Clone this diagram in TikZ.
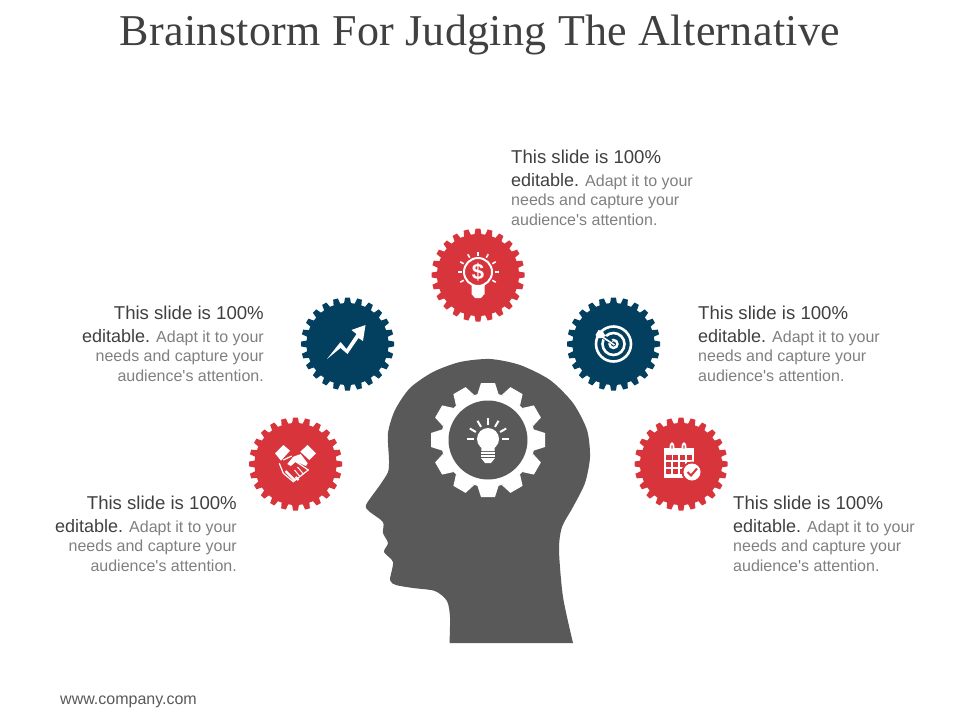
\documentclass[tikz,border=0pt]{standalone}
\usepackage{fontspec}
\setmainfont[Ligatures=TeXOff]{Liberation Sans}
\newfontfamily\titlefont[LetterSpace=0.8]{Liberation Serif}
\definecolor{cogred}{HTML}{D7343B}
\definecolor{cognavy}{HTML}{03405F}
\definecolor{headgrey}{HTML}{595959}
\definecolor{darktext}{HTML}{404040}
\definecolor{softtext}{HTML}{7F7F7F}
\newcommand{\cogwheel}[4]{%
    \fill (0, 0) circle (#2);
    \foreach \a in {1, ..., #1}
       \fill[rotate=\a*360/#1] (#2-1, -#4*1.5) -- (#3, -#4) -- (#3, #4) -- (#2-1, #4*1.5) -- cycle;
}
\newcommand{\leadtext}{\fontsize{18.6}{18.6}\selectfont\color{darktext}}
\newcommand{\blurb}{{\leadtext This slide is 100\%}\\[3pt]{\leadtext\fontsize{18}{18}\selectfont editable.} Adapt it to your\\needs and capture your\\audience's attention.}
\tikzset{
    blurbtext/.style={font=\fontsize{16}{19.6}\selectfont, text=softtext, inner sep=0pt},
    leftblurb/.style={blurbtext, align=right, anchor=north east},
    rightblurb/.style={blurbtext, align=left, anchor=north west},
    ray/.style={draw=white, line width=1.6, line cap=butt},
}
\begin{document}
\begin{tikzpicture}[x=1pt, y=-1pt]
    \useasboundingbox (0, 0) rectangle (960, 720);
    \node[anchor=base, font=\titlefont\fontsize{44}{44}\selectfont, text=darktext] (title) at (480, 45) {Brainstorm For Judging The Alternative};
    \node[anchor=west, font=\fontsize{16}{16}\selectfont, text=headgrey, inner sep=0pt] (site) at (60, 702) {www.company.com};
    % head
    \fill[headgrey] plot[smooth, tension=.45] coordinates {(449.5, 643) (450, 617) (447, 601) (435, 591) (413, 588) (396, 585) (390, 580) (393, 562) (384, 552) (388, 543) (383, 533) (383, 522) (370, 512) (366, 505) (380, 485) (388, 472) (389, 460) (388, 433) (395, 410) (410, 388) (433, 372) (460, 362) (490, 359) (520, 365) (550, 380) (573, 403) (587, 430) (590, 457) (585, 483) (573, 507) (562, 527) (559, 550) (563, 597) (573, 643)} -- cycle;
    \begin{scope}[shift={(488, 440)}, fill=white]
       \cogwheel{12}{47}{57}{7}
       \fill[headgrey] (0, 0) circle (39.5);
       \fill (0, -1) circle (11);
       \fill (-7, 4) -- (7, 4) -- (6.5, 11) -- (-6.5, 11) -- cycle;
       \foreach \a in {0, -30, ..., -180}
          \draw[ray, line width=2] (0, -1) ++(\a:14) -- ++(\a:7);
       \foreach \y in {13, 16}
          \draw[white, line width=1.8] (-7, \y) -- (7, \y);
       \fill (-7, 18) -- (7, 18) -- (3, 23) -- (-3, 23) -- cycle;
    \end{scope}
    % money
    \begin{scope}[shift={(478, 275)}, fill=cogred]
       \cogwheel{24}{41}{46.5}{2.4}
       \draw[white, line width=2] (0, -3) circle (14);
       \fill[white] (-6.5, 10) -- (6.5, 10) -- (6.5, 19) -- (3, 23) -- (-3, 23) -- (-6.5, 19) -- cycle;
       \foreach \a in {-210, -180, ..., 30}
          \draw[ray] (0, -3) ++(\a:16.5) -- ++(\a:4);
       \node[text=white, font=\bfseries\fontsize{22}{22}\selectfont, inner sep=0pt] (dollar) at (0, -3) {\$};
    \end{scope}
    % growth
    \begin{scope}[shift={(347.5, 344)}, fill=cognavy]
       \cogwheel{24}{41}{46.5}{2.4}
       \fill[white] (-20.5, 15) -- (-7, -2) -- (-1, 5) -- (9, -10) -- (4, -14) -- (18, -19) -- (15.5, -3) -- (11, -6) -- (0, 10) -- (-7, 4) -- cycle;
    \end{scope}
    % target
    \begin{scope}[shift={(613.5, 344)}, fill=cognavy]
       \cogwheel{24}{41}{46.5}{2.4}
       \draw[white, line width=2.6] (0, 0) circle (17.5);
       \draw[white, line width=2.6] (0, 0) circle (11);
       \draw[white, line width=2.4] (0, 0) circle (4);
       \draw[cognavy, line width=4] (-15, -10) -- (-2, -2);
       \draw[white, line width=1.6] (-14, -9) -- (1, 1);
       \fill[white] (-18, -9) -- (-15, -14) -- (-11, -13) -- (-8, -8) -- (-12, -6) -- (-16, -6) -- cycle;
    \end{scope}
    % handshake
    \begin{scope}[shift={(295.5, 464)}, fill=cogred]
       \cogwheel{24}{41}{46.5}{2.4}
       \fill[white] (-20.5, -10.7) -- (-12, -19) -- (-5.5, -13.3) -- (-14.5, -3.3) -- cycle;
       \fill[white] (20.5, -10.7) -- (12, -19) -- (4.8, -12.3) -- (13.8, -4) -- cycle;
       \fill[white] (-8.2, 0) -- (-2.2, -7.3) -- (5.2, -10) -- (12.2, -.7) -- (10.5, 2) -- (.5, -2.3) -- (-4.8, 2) -- cycle;
       \draw[white, line width=1.2] (-3.8, -8) -- (-12.2, -4) (-16.2, -.7) -- (-12.2, 9.3) -- (-2.2, 17.7) -- (12.8, 6) -- (.5, -2.3);
       \foreach \x/\y in {-10/7, -7/10, -4/13, 0/13}
          \draw[white, line width=2.4] (\x, \y) -- ++(3, 3);
       \draw[white, line width=1] (2, 3) -- (8, 10) (-1, 6) -- (4, 12);
    \end{scope}
    % calendar
    \begin{scope}[shift={(681, 464)}, fill=cogred]
       \cogwheel{24}{41}{46.5}{2.4}
       \fill[white] (-17, -16) rectangle (13, 14);
       \foreach \x in {-5.5, 1.5, 8.5}
          \foreach \y in {-7, 0, 7}
             \fill[cogred] (\x-2.7, \y-2.5) rectangle (\x+2.7, \y+2.5);
       \fill[cogred] (-15, -9.5) rectangle (-9.5, -4.5);
       \foreach \y in {0, 7}
          \fill[cogred] (-15, \y-2.5) rectangle (-10, \y+2.5);
       \foreach \x in {-9, 3}
          \draw[white, line width=1.8, fill=cogred] (\x, -17) ellipse (1.6 and 3.6);
       \fill[cogred] (11, 8) circle (10.5);
       \fill[white] (11, 8) circle (8.5);
       \draw[cogred, line width=2] (6.5, 8) -- (10, 11.5) -- (16, 4.5);
    \end{scope}
    % texts
    \node[rightblurb] (topblurb) at (511, 150) {\blurb};
    \node[rightblurb] (rightupper) at (698, 306) {\blurb};
    \node[rightblurb] (rightlower) at (733, 496) {\blurb};
    \node[leftblurb] (leftupper) at (264, 306) {\blurb};
    \node[leftblurb] (leftlower) at (237, 496) {\blurb};
\end{tikzpicture}
\end{document}
